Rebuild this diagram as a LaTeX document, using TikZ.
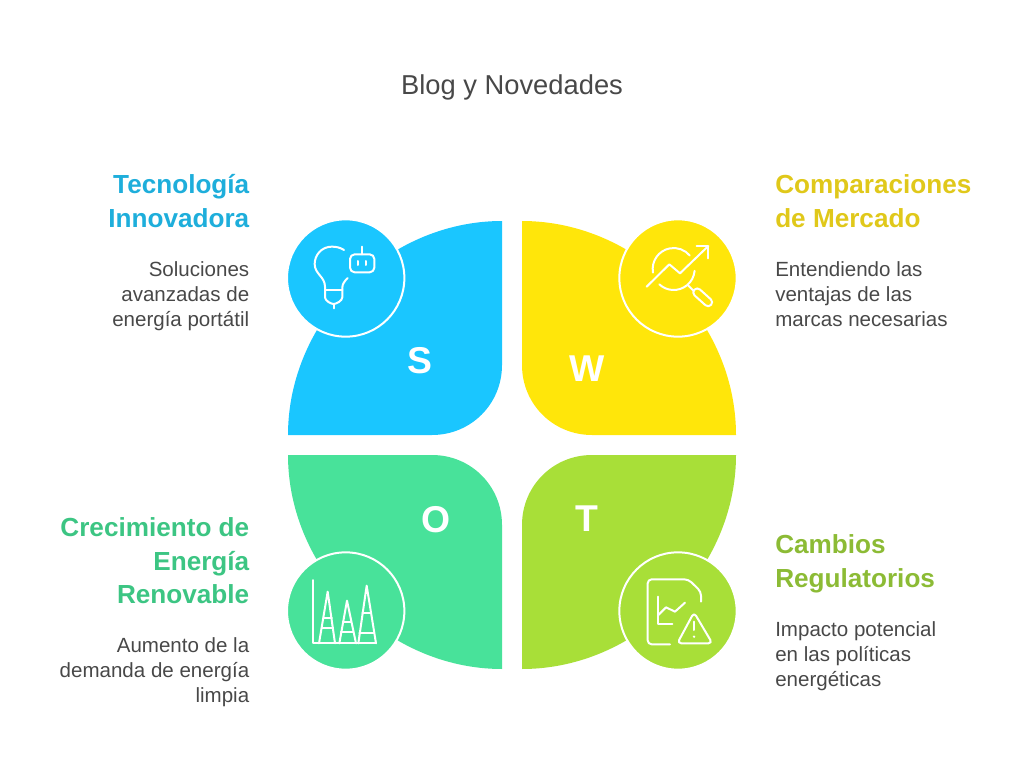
\documentclass[tikz,border=0pt]{standalone}
\usepackage{fontspec}
\setmainfont{Liberation Sans}
\definecolor{cs}{HTML}{1AC6FF}
\definecolor{cw}{HTML}{FFE60A}
\definecolor{co}{HTML}{48E29A}
\definecolor{ct}{HTML}{A8DF38}
\definecolor{ts}{HTML}{1EAEDB}
\definecolor{tw}{HTML}{E0C81A}
\definecolor{to}{HTML}{3CC583}
\definecolor{tt}{HTML}{8CBB35}
\definecolor{bodyc}{HTML}{484848}
\tikzset{
  px/.style={x=0.75pt,y=-0.75pt},
  ring/.style={draw=white,line width=1.5pt},
  icon/.style={draw=white,line width=1.5pt,line cap=round,line join=round},
  letter/.style={text=white,font=\fontsize{28}{28}\selectfont\bfseries,inner sep=0pt},
  headr/.style={font=\fontsize{19.6}{25}\selectfont\bfseries,inner sep=0pt,align=right,anchor=north east},
  headl/.style={font=\fontsize{19.6}{25}\selectfont\bfseries,inner sep=0pt,align=left,anchor=north west},
  descr/.style={font=\fontsize{15.4}{18.9}\selectfont,text=bodyc,inner sep=0pt,align=right,anchor=north east},
  descl/.style={font=\fontsize{15.4}{18.9}\selectfont,text=bodyc,inner sep=0pt,align=left,anchor=north west},
  iconbox/.style={scale=1/3},
  disc/.style={circle,ring,minimum size=88pt,inner sep=0pt,outer sep=0pt},
}
\begin{document}
\begin{tikzpicture}[px]
\useasboundingbox (0,0) rectangle (1024,781);
\node[font=\fontsize{20.5}{24}\selectfont,text=bodyc,inner sep=0pt] (title) at (512,87.5) {Blog y Novedades};
% leaves
\fill[cs] (288,435) .. controls (288,320) and (387,221) .. (502,221) -- (502,365) .. controls (502,404) and (471,435) .. (432,435) -- cycle;
\fill[cw] (736,435) .. controls (736,320) and (637,221) .. (522,221) -- (522,365) .. controls (522,404) and (553,435) .. (592,435) -- cycle;
\fill[co] (288,455) .. controls (288,570) and (387,669) .. (502,669) -- (502,525) .. controls (502,486) and (471,455) .. (432,455) -- cycle;
\fill[ct] (736,455) .. controls (736,570) and (637,669) .. (522,669) -- (522,525) .. controls (522,486) and (553,455) .. (592,455) -- cycle;
% circles
\node[disc,fill=cs] (cS) at (345.7,278) {};
\node[disc,fill=cw] (cW) at (678,278) {};
\node[disc,fill=co] (cO) at (345.7,611) {};
\node[disc,fill=ct] (cT) at (678,611) {};
% letters
\node[letter] (lS) at (420,361) {S};
\node[letter] (lW) at (587,369) {W};
\node[letter] (lO) at (436,520) {O};
\node[letter] (lT) at (587,519) {T};
% bulb + robot
\begin{scope}[shift={(305,240)},iconbox]
\draw[icon] (117,30) .. controls (105,22) and (92,20) .. (80,20) .. controls (50,20) and (29,45) .. (29,72) .. controls (29,102) and (60,110) .. (60,140) -- (60,172) .. controls (60,182) and (78,192) .. (86,192) .. controls (94,192) and (112,182) .. (112,172) -- (112,142) .. controls (112,132) and (120,122) .. (128,114);
\draw[icon] (60,150) -- (112,150);
\draw[icon] (86,192) -- (86,205);
\draw[icon,rounded corners=3.5pt] (135,43) rectangle (208,97);
\draw[icon] (171,20) -- (171,43);
\draw[icon] (158,63) -- (158,75);
\draw[icon] (183,63) -- (183,75);
\end{scope}
% magnifier
\begin{scope}[shift={(640,240)},iconbox]
\draw[icon] (39,98) arc[start angle=170,end angle=320,radius=63];
\draw[icon] (163.8,92.5) arc[start angle=5,end angle=133,radius=63];
\draw[icon] (20,140) -- (88,73) -- (120,100) -- (205,18);
\draw[icon] (170,18) -- (205,18) -- (205,55);
\draw[icon] (145,137) -- (160,152);
\draw[icon,shift={(188,172)},rotate=-42,rounded corners=3pt] (-34,-12) rectangle (34,12);
\end{scope}
% bars
\begin{scope}[shift={(305,575)},iconbox]
\draw[icon] (24,15) -- (24,205) -- (213,205);
\draw[icon] (42,205) -- (68,50) -- (90,205);
\draw[icon] (55.6,130) -- (80.4,130);
\draw[icon] (51.3,158) -- (84.7,158);
\draw[icon] (103,205) -- (126,77) -- (153,205);
\draw[icon] (113.3,142) -- (138.7,142);
\draw[icon] (107.8,170) -- (144.2,170);
\draw[icon] (160,205) -- (185,32) -- (213,205);
\draw[icon] (172.3,115) -- (197.7,115);
\draw[icon] (163.1,175) -- (206.9,175);
\end{scope}
% report + warning
\begin{scope}[shift={(640,575)},iconbox]
\draw[icon,rounded corners=3pt] (90,208) -- (23,208) -- (23,13) -- (145,13) -- (183,50) -- (183,80);
\draw[icon] (55,65) -- (55,148) -- (97,148);
\draw[icon] (55,120) -- (78,97) -- (105,110) -- (135,83);
\draw[icon,rounded corners=3pt] (162,112) -- (217,205) -- (112,205) -- cycle;
\draw[icon] (162,140) -- (162,165);
\fill[white] (162,185) circle[radius=4];
\end{scope}
% texts
\node[headr,text=ts] (hS) at (249.5,174.5) {Tecnología\\Innovadora};
\node[descr] (dS) at (249.5,261) {Soluciones\\avanzadas de\\energía portátil};
\node[headl,text=tw] (hW) at (775,174.5) {Comparaciones\\de Mercado};
\node[descl] (dW) at (775,261) {Entendiendo las\\ventajas de las\\marcas necesarias};
\node[headr,text=to] (hO) at (249.5,517.5) {Crecimiento de\\Energía\\Renovable};
\node[descr] (dO) at (249.5,637) {Aumento de la\\demanda de energía\\limpia};
\node[headl,text=tt] (hT) at (775,534.5) {Cambios\\Regulatorios};
\node[descl] (dT) at (775,621) {Impacto potencial\\en las políticas\\energéticas};
\end{tikzpicture}
\end{document}
